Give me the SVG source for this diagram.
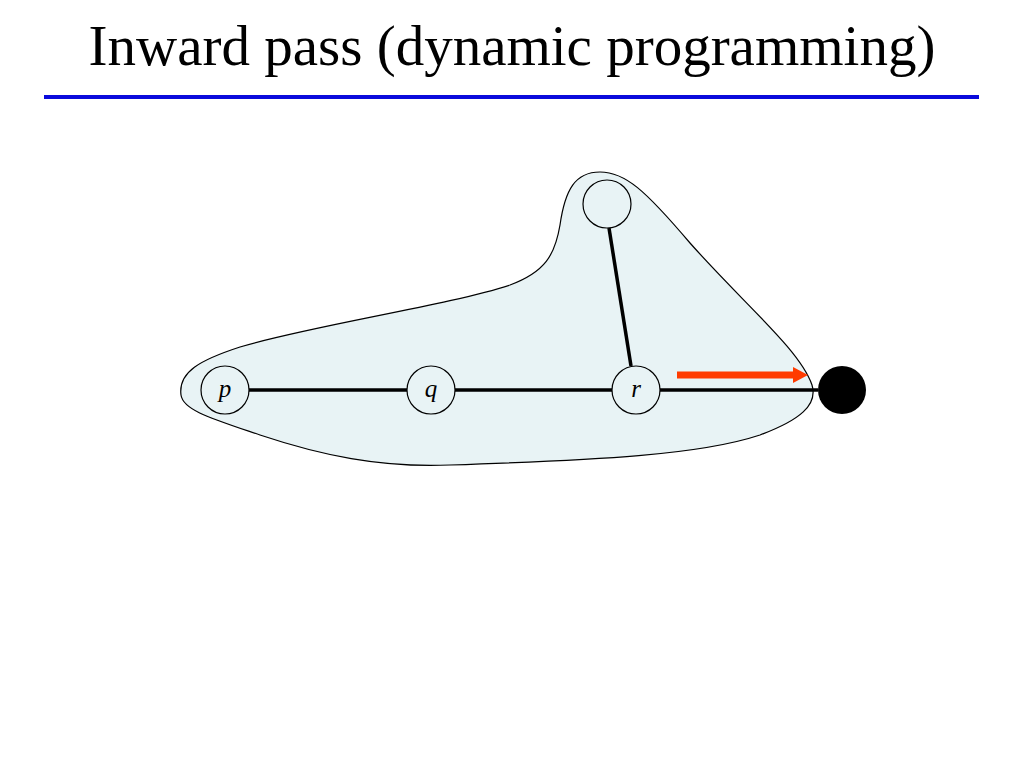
<svg xmlns="http://www.w3.org/2000/svg" width="1024" height="768" viewBox="0 0 1024 768">
<style>
.title{font-family:"Liberation Serif","Times New Roman",serif;font-size:57px;fill:#000}
.node{fill:#E8F3F5;stroke:#000;stroke-width:1.2}
.lbl{font-family:"Liberation Serif","Times New Roman",serif;font-style:italic;font-size:25px;fill:#000;text-anchor:middle}
.edge{stroke:#000;stroke-width:3.5;fill:none}
</style>
<rect width="1024" height="768" fill="#fff"/>
<text class="title" x="512" y="65" text-anchor="middle">Inward pass (dynamic programming)</text>
<line x1="44" y1="97" x2="979" y2="97" stroke="#0A0ADC" stroke-width="4"/>
<g id="blob">
<path d="M181,395 C178,372 200,360 240,347 C310,326 450,305 510,285 C545,272 555,255 560,225 C565,190 575,172 600,172 C625,172 645,190 690,243 C745,305 800,350 812,385 C818,405 800,420 760,435 C700,455 600,460 450,465 C380,468 320,455 260,435 C210,418 183,410 181,395 Z" fill="#E8F3F5" stroke="#000" stroke-width="1.2"/>
</g>
<g id="connectors">
<line class="edge" x1="249" y1="390" x2="407" y2="390"/>
<line class="edge" x1="455" y1="390" x2="612" y2="390"/>
<line class="edge" x1="660" y1="390" x2="818" y2="390"/>
<line class="edge" x1="609" y1="228" x2="631" y2="366"/>
<path d="M677,371.5 L793,371.5 L793,367 L808,375 L793,383 L793,378.5 L677,378.5 Z" fill="#FF3B00"/>
</g>
<g id="node-p"><circle class="node" cx="225" cy="390" r="24"/><text class="lbl" x="225" y="397">p</text></g>
<g id="node-q"><circle class="node" cx="431" cy="390" r="24"/><text class="lbl" x="431" y="397">q</text></g>
<g id="node-r"><circle class="node" cx="636" cy="390" r="24"/><text class="lbl" x="636" y="397">r</text></g>
<g id="node-top"><circle class="node" cx="607" cy="204" r="24"/></g>
<g id="node-root"><circle cx="842" cy="390" r="24" fill="#000"/></g>
</svg>
